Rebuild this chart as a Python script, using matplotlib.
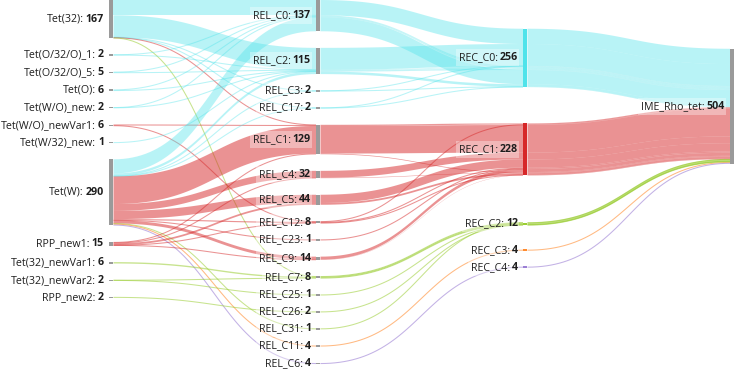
import matplotlib
matplotlib.use("Agg")
import matplotlib.pyplot as plt
from matplotlib.patches import Rectangle, Polygon
import numpy as np

# ---------------- data ----------------
tet_nodes = ["Tet(32)", "Tet(O/32/O)_1", "Tet(O/32/O)_5", "Tet(O)", "Tet(W/O)_new",
             "Tet(W/O)_newVar1", "Tet(W/32)_new", "Tet(W)", "RPP_new1",
             "Tet(32)_newVar1", "Tet(32)_newVar2", "RPP_new2"]
rel_nodes = ["REL_C0", "REL_C2", "REL_C3", "REL_C17", "REL_C1", "REL_C4", "REL_C5",
             "REL_C12", "REL_C23", "REL_C9", "REL_C7", "REL_C25", "REL_C26", "REL_C31",
             "REL_C11", "REL_C6"]
rec_nodes = ["REC_C0", "REC_C1", "REC_C2", "REC_C3", "REC_C4"]
root_nodes = ["IME_Rho_tet"]

rel_to_rec = {
    "REL_C0": "REC_C0", "REL_C2": "REC_C0", "REL_C3": "REC_C0", "REL_C17": "REC_C0",
    "REL_C1": "REC_C1", "REL_C4": "REC_C1", "REL_C5": "REC_C1", "REL_C12": "REC_C1",
    "REL_C23": "REC_C1", "REL_C9": "REC_C1",
    "REL_C7": "REC_C2", "REL_C25": "REC_C2", "REL_C26": "REC_C2", "REL_C31": "REC_C2",
    "REL_C11": "REC_C3", "REL_C6": "REC_C4",
}

# gene -> REL cluster counts
path_tet = (["Tet(32)"] * 6 + ["Tet(O/32/O)_1"] * 2 + ["Tet(O/32/O)_5"] * 2 + ["Tet(O)"] * 2
            + ["Tet(W/O)_new"] * 2 + ["Tet(W/O)_newVar1"] * 2 + ["Tet(W/32)_new"]
            + ["Tet(W)"] * 13 + ["RPP_new1"] * 5 + ["Tet(32)_newVar1"]
            + ["Tet(32)_newVar2"] * 2 + ["RPP_new2"])
path_rel = (["REL_C0", "REL_C2", "REL_C3", "REL_C17", "REL_C1", "REL_C7"]
            + ["REL_C0", "REL_C2"] + ["REL_C0", "REL_C2"] + ["REL_C0", "REL_C2"]
            + ["REL_C0", "REL_C2"] + ["REL_C1", "REL_C12"] + ["REL_C2"]
            + ["REL_C0", "REL_C2", "REL_C3", "REL_C17", "REL_C1", "REL_C4", "REL_C5",
               "REL_C12", "REL_C23", "REL_C9", "REL_C31", "REL_C11", "REL_C6"]
            + ["REL_C1", "REL_C4", "REL_C5", "REL_C12", "REL_C9"]
            + ["REL_C7"] + ["REL_C7", "REL_C25"] + ["REL_C26"])
path_count = ([67, 96, 1, 1, 1, 1]
              + [1, 1] + [3, 2] + [3, 3]
              + [1, 1] + [4, 2] + [1]
              + [62, 11, 1, 1, 121, 30, 36, 5, 1, 13, 1, 4, 4]
              + [3, 2, 8, 1, 1]
              + [6] + [1, 1] + [2])

rec_colors = {"REC_C0": "#4fe3ea", "REC_C1": "#d62728", "REC_C2": "#9acd32",
              "REC_C3": "#ff8c30", "REC_C4": "#9b7fd4"}
link_alpha = {"REC_C0": 0.40, "REC_C1": 0.50, "REC_C2": 0.55,
              "REC_C3": 0.60, "REC_C4": 0.60}
gray_node = "#9a9a9a"

# ---------------- layout ----------------
W, H = 735, 369
node_w = 4.5
x_first, x_last = 109.0, 730.0
pad = 16.6
dense_bottom = 364.0
# vertical centres (fraction of height) for the right-hand columns
fixed_centre = {"REC_C0": 0.157, "REC_C1": 0.405, "REC_C2": 0.607,
                "REC_C3": 0.678, "REC_C4": 0.724, "IME_Rho_tet": 0.288}

columns = [tet_nodes, rel_nodes, rec_nodes, root_nodes]
value = {n: 0 for col in columns for n in col}
for t, r, c in zip(path_tet, path_rel, path_count):
    value[t] += c
    value[r] += c
    value[rel_to_rec[r]] += c
    value[root_nodes[0]] += c

total = value[root_nodes[0]]
k = (dense_bottom - (len(rel_nodes) - 1) * pad) / total

col_x = np.linspace(x_first, x_last, len(columns))
node_x, node_top, node_h = {}, {}, {}
for ci, col in enumerate(columns):
    y = 0.0
    for n in col:
        h = value[n] * k
        node_x[n] = col_x[ci]
        node_h[n] = h
        if n in fixed_centre:
            node_top[n] = fixed_centre[n] * H - h / 2
        else:
            node_top[n] = y
            y += h + pad

tet_idx = {n: i for i, n in enumerate(tet_nodes)}
rel_idx = {n: i for i, n in enumerate(rel_nodes)}
rec_idx = {n: i for i, n in enumerate(rec_nodes)}
paths = list(zip(path_tet, path_rel, path_count))


def assign(links, src_key, dst_key):
    s_off, d_off, ys, yd = {}, {}, {}, {}
    order_s = sorted(range(len(links)), key=lambda i: (links[i][0], src_key(i)))
    order_d = sorted(range(len(links)), key=lambda i: (links[i][1], dst_key(i)))
    for i in order_s:
        s = links[i][0]
        off = s_off.get(s, node_top[s])
        w = links[i][2] * k
        ys[i] = (off, off + w)
        s_off[s] = off + w
    for i in order_d:
        d = links[i][1]
        off = d_off.get(d, node_top[d])
        w = links[i][2] * k
        yd[i] = (off, off + w)
        d_off[d] = off + w
    return [(links[i], ys[i], yd[i]) for i in range(len(links))]


# stage 1: gene -> REL
l1 = [(t, r, c, rel_to_rec[r]) for t, r, c in paths]
s1 = assign(l1, lambda i: rel_idx[l1[i][1]], lambda i: tet_idx[l1[i][0]])
# stage 2: REL -> REC, one ribbon per path
l2 = [(r, rel_to_rec[r], c, rel_to_rec[r]) for t, r, c in paths]
s2 = assign(l2, lambda i: i, lambda i: i)
# stage 3: REC -> root, one ribbon per path
l3 = [(rel_to_rec[r], root_nodes[0], c, rel_to_rec[r]) for t, r, c in paths]
s3 = assign(l3, lambda i: i, lambda i: (rec_idx[l3[i][0]], i))

fig = plt.figure(figsize=(W / 100, H / 100), dpi=100)
ax = fig.add_axes([0, 0, 1, 1])
ax.set_xlim(0, W)
ax.set_ylim(H, 0)
ax.axis("off")

tt = np.linspace(0, 1, 60)
blend = 3 * tt ** 2 - 2 * tt ** 3


def draw_link(x0, ya, x1, yb, color, alpha, as_line):
    xm = (x0 + x1) / 2
    bx = (1 - tt) ** 3 * x0 + 3 * (1 - tt) ** 2 * tt * xm + 3 * (1 - tt) * tt ** 2 * xm + tt ** 3 * x1
    top = ya[0] + (yb[0] - ya[0]) * blend
    bot = ya[1] + (yb[1] - ya[1]) * blend
    if as_line:
        mid = (top + bot) / 2
        ax.plot(bx, mid, color=color, alpha=alpha, lw=0.75, solid_capstyle="butt", zorder=1)
    else:
        xs = np.concatenate([bx, bx[::-1]])
        ys = np.concatenate([top, bot[::-1]])
        ax.add_patch(Polygon(np.column_stack([xs, ys]), closed=True, facecolor=color,
                             edgecolor="none", alpha=alpha, zorder=1))


for si, stage in enumerate((s1, s2, s3)):
    for (src, dst, val, rec), ya, yb in stage:
        w = ya[1] - ya[0]
        if si == 0:
            as_line = w < 1.0
        else:
            as_line = w < 1.0 and (node_h[src] < 3 or node_h[dst] < 3)
        draw_link(node_x[src] + node_w, ya, node_x[dst], yb, rec_colors[rec],
                  link_alpha[rec], as_line)

# nodes
for col in columns:
    for n in col:
        h = max(node_h[n], 1.4)
        cy = node_top[n] + node_h[n] / 2
        color = rec_colors.get(n, gray_node)
        ax.add_patch(Rectangle((node_x[n], cy - h / 2), node_w, h, facecolor=color,
                               edgecolor="none", zorder=3))

# labels
fig.canvas.draw()
renderer = fig.canvas.get_renderer()
font = dict(family=["Open Sans", "DejaVu Sans"], size=7.65, color="#1e1e1e")
for col in columns:
    for n in col:
        cy = node_top[n] + node_h[n] / 2
        xr = node_x[n] - 5.0
        tv = ax.text(xr, cy, str(value[n]), ha="right", va="center", fontweight="bold",
                     zorder=5, **font)
        wv = tv.get_window_extent(renderer).width
        gap = 2.2
        tn = ax.text(xr - wv - gap, cy, n + ":", ha="right", va="center", zorder=5, **font)
        wn = tn.get_window_extent(renderer).width
        left = xr - wv - gap - wn
        ax.add_patch(Rectangle((left - 3, cy - 8.5), (xr - left) + 4, 17,
                               facecolor="white", edgecolor="none", alpha=0.35, zorder=4))

fig.savefig("out.png", dpi=100)
